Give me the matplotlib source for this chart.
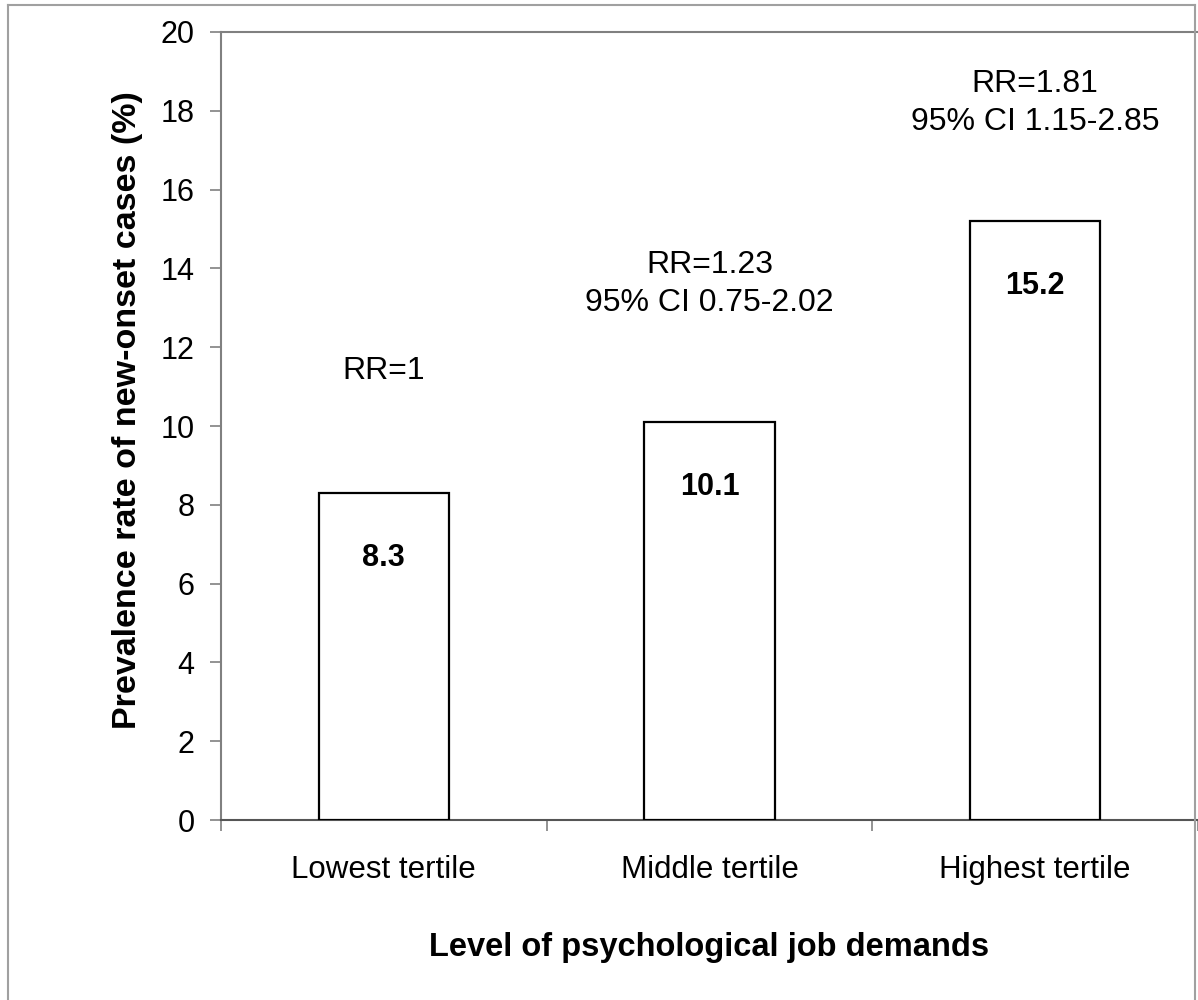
import matplotlib.pyplot as plt
from matplotlib.lines import Line2D

# Data
categories = ['Lowest tertile', 'Middle tertile', 'Highest tertile']
prevalence = [8.3, 10.1, 15.2]
rr_labels = ['RR=1', 'RR=1.23\n95% CI 0.75-2.02', 'RR=1.81\n95% CI 1.15-2.85']

# Layout for the RR annotations (y in data units)
rr_y = [11.4, 13.6, 18.2]

plt.rcParams['font.family'] = ['Liberation Sans', 'DejaVu Sans']

fig = plt.figure(figsize=(11.98, 10), dpi=100)
ax = fig.add_axes([221 / 1198, 0.18, 1 - 221 / 1198, 0.788])

x = range(len(categories))
ax.bar(x, prevalence, width=0.4, color='white', edgecolor='black', linewidth=1.6, zorder=3)

# Value labels inside bars
for i, v in enumerate(prevalence):
    ax.text(i, v - 1.65, f'{v:.1f}', ha='center', va='center', fontsize=22, fontweight='bold')

# RR annotations above bars
for i, lab in enumerate(rr_labels):
    ax.text(i, rr_y[i], lab, ha='center', va='center', fontsize=23, linespacing=1.35)

ax.set_xlim(-0.5, 2.5)
ax.set_ylim(0, 20)
ax.set_yticks(range(0, 21, 2))
ax.tick_params(axis='y', direction='out', length=8, width=1.2, color='#808080', pad=11, labelsize=22)

# category boundaries as major ticks, names as minor ticks
ax.set_xticks([-0.5, 0.5, 1.5, 2.5])
ax.set_xticklabels([])
ax.set_xticks(list(x), minor=True)
ax.set_xticklabels(categories, minor=True)
ax.tick_params(axis='x', which='major', direction='out', length=8, width=1.2, color='#808080')
ax.tick_params(axis='x', which='minor', length=0, pad=25, labelsize=22.5)

for side in ['left', 'top']:
    ax.spines[side].set_color('#808080')
    ax.spines[side].set_linewidth(1.5)
ax.spines['bottom'].set_color('#555555')
ax.spines['bottom'].set_linewidth(1.5)
ax.spines['right'].set_visible(False)

ax.set_ylabel('Prevalence rate of new-onset cases (%)', fontsize=24.5, fontweight='bold')
ax.yaxis.set_label_coords(-0.08, 0.52)
ax.set_xlabel('Level of psychological job demands', fontsize=23.5, fontweight='bold', labelpad=34)

# outer frame of the figure
frame_c = '#a0a0a0'
fig.add_artist(Line2D([8 / 1198, 8 / 1198], [0, 1 - 5 / 1000], transform=fig.transFigure, color=frame_c, lw=1.5))
fig.add_artist(Line2D([8 / 1198, 1195 / 1198], [1 - 5 / 1000, 1 - 5 / 1000], transform=fig.transFigure, color=frame_c, lw=1.5))
fig.add_artist(Line2D([1195 / 1198, 1195 / 1198], [0, 1 - 5 / 1000], transform=fig.transFigure, color=frame_c, lw=1.5))

fig.savefig('out.png', dpi=100)
